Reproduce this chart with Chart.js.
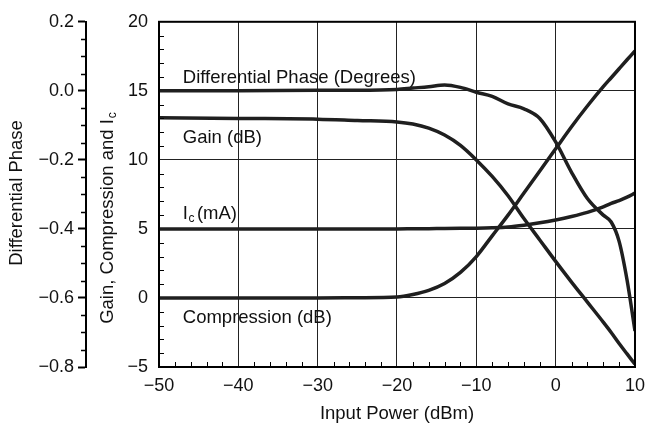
<!DOCTYPE html>
<html>
<head>
<meta charset="utf-8">
<script src="https://cdn.jsdelivr.net/npm/chart.js@4"></script>
<style>
  html, body { margin: 0; padding: 0; background: #fff; }
  #wrap { width: 653px; height: 425px; }
</style>
</head>
<body>
<div id="wrap"><canvas id="chart" width="653" height="425"></canvas></div>
<script>
// input power, dBm
const inputPower = [-50, -40, -30, -25, -20, -18, -16, -14, -12, -10, -8, -6, -4, -2, 0, 2, 4, 6, 7, 8, 9, 10];
const gainDb =        [13.05, 13.0, 12.95, 12.85, 12.75, 12.6, 12.3, 11.8, 11.05, 10.0, 8.8, 7.4, 5.75, 4.2, 2.65, 1.15, -0.3, -1.75, -2.5, -3.3, -4.05, -4.8];
const compressionDb = [0, 0, 0, 0.02, 0.07, 0.25, 0.55, 1.05, 1.85, 3.0, 4.5, 6.0, 7.6, 9.2, 10.8, 12.4, 13.9, 15.3, 15.95, 16.6, 17.25, 17.9];
const icMa =          [5.0, 5.0, 5.0, 5.0, 5.0, 5.01, 5.02, 5.03, 5.04, 5.05, 5.08, 5.14, 5.27, 5.44, 5.65, 5.9, 6.2, 6.6, 6.85, 7.05, 7.3, 7.6];
const diffPhase =     [0, 0, 0.002, 0.002, 0.004, 0.008, 0.012, 0.017, 0.01, -0.004, -0.016, -0.038, -0.052, -0.08, -0.148, -0.236, -0.312, -0.36, -0.38, -0.436, -0.548, -0.696];

const xTicks = [-50, -40, -30, -20, -10, 0, 10];
const gainTicks = [-5, 0, 5, 10, 15, 20];
const phaseTicks = [-0.8, -0.6, -0.4, -0.2, 0.0, 0.2];

const FONT = "'Liberation Sans', Arial, Helvetica, sans-serif";
const LINE = "#1f1f1f";
const TXT = "18.5px " + FONT;
const SUB = "12px " + FONT;

function minus(s) { return String(s).replace("-", "\u2212"); }

function series(vals, axis) {
  return {
    data: inputPower.map((x, i) => ({ x: x, y: vals[i] })),
    yAxisID: axis,
    borderColor: LINE,
    borderWidth: 3.5,
    pointRadius: 0,
    cubicInterpolationMode: "monotone",
    fill: false
  };
}

const decor = {
  id: "decor",
  afterDraw(chart) {
    const c = chart.ctx;
    const a = chart.chartArea;
    const xs = chart.scales.x, ys = chart.scales.y, ps = chart.scales.phase;
    c.save();
    c.strokeStyle = "#000";
    // minor ticks, inside the plot
    c.lineWidth = 1;
    c.beginPath();
    for (let v = -48; v < 10; v += 2) {
      if (v % 10 === 0) continue;
      const px = Math.round(xs.getPixelForValue(v)) + 0.5;
      c.moveTo(px, a.bottom); c.lineTo(px, a.bottom - 5);
    }
    for (let v = -4; v < 20; v += 1) {
      if (v % 5 === 0) continue;
      const py = Math.round(ys.getPixelForValue(v)) + 0.5;
      c.moveTo(a.left, py); c.lineTo(a.left + 5, py);
    }
    c.stroke();
    // minor ticks on the phase axis
    const axX = ps.right;
    c.lineWidth = 1.5;
    c.beginPath();
    for (let k = -16; k <= 4; k++) {
      if (k % 4 === 0) continue;
      const py = Math.round(ps.getPixelForValue(k * 0.05)) + 0.5;
      c.moveTo(axX, py); c.lineTo(axX - 5, py);
    }
    c.stroke();
    // frame
    c.lineWidth = 2;
    c.strokeRect(a.left, a.top, a.right - a.left, a.bottom - a.top);

    // labels on the curves
    c.fillStyle = "#111";
    c.font = TXT;
    c.textBaseline = "middle";
    c.textAlign = "left";
    const lx = xs.getPixelForValue(-47);
    c.fillText("Differential Phase (Degrees)", lx, ys.getPixelForValue(15.97));
    c.fillText("Gain (dB)", lx, ys.getPixelForValue(11.6));
    c.fillText("Compression (dB)", lx, ys.getPixelForValue(-1.47));
    const icY = ys.getPixelForValue(6.1);
    c.fillText("I", lx, icY);
    const w = c.measureText("I").width;
    c.font = SUB;
    c.fillText("c", lx + w + 0.5, icY + 5);
    const wc = c.measureText("c").width;
    c.font = TXT;
    c.fillText("(mA)", lx + w + wc + 3, icY);

    // axis titles
    c.save();
    c.translate(17, 193);
    c.rotate(-Math.PI / 2);
    c.textAlign = "center";
    c.fillText("Differential Phase", 0, 0);
    c.restore();

    c.save();
    c.translate(108, 218);
    c.rotate(-Math.PI / 2);
    const t1 = "Gain, Compression and I";
    const w1 = c.measureText(t1).width;
    c.font = SUB;
    const w2 = c.measureText("c").width;
    const start = -(w1 + w2 + 1) / 2;
    c.font = TXT;
    c.textAlign = "left";
    c.fillText(t1, start, 0);
    c.font = SUB;
    c.fillText("c", start + w1 + 1, 5);
    c.restore();
    c.restore();
  }
};

new Chart(document.getElementById("chart").getContext("2d"), {
  type: "line",
  data: {
    datasets: [
      series(diffPhase, "phase"),
      series(gainDb, "y"),
      series(icMa, "y"),
      series(compressionDb, "y")
    ]
  },
  options: {
    responsive: false,
    animation: false,
    events: [],
    layout: { padding: { top: 20, right: 11, bottom: 0, left: 0 } },
    plugins: { legend: { display: false }, tooltip: { enabled: false } },
    scales: {
      x: {
        type: "linear",
        position: "bottom",
        min: -50, max: 10,
        afterBuildTicks: s => { s.ticks = xTicks.map(v => ({ value: v })); },
        afterFit: s => { s.height = 58; },
        grid: { color: "#222", lineWidth: 1, drawTicks: false },
        border: { display: true, color: "#000", width: 2 },
        ticks: {
          color: "#111", padding: 8,
          font: { family: FONT, size: 18 },
          callback: v => minus(v)
        },
        title: {
          display: true, text: "Input Power (dBm)", color: "#111",
          font: { family: FONT, size: 18.5 }, padding: { top: 2, bottom: 0 }
        }
      },
      y: {
        type: "linear",
        position: "left",
        weight: 0,
        min: -5, max: 20,
        afterBuildTicks: s => { s.ticks = gainTicks.map(v => ({ value: v })); },
        afterFit: s => { s.width = 73; },
        grid: { color: "#222", lineWidth: 1, drawTicks: false },
        border: { display: true, color: "#000", width: 2 },
        ticks: {
          color: "#111", padding: 11,
          font: { family: FONT, size: 18 },
          callback: v => minus(v)
        }
      },
      phase: {
        type: "linear",
        position: "left",
        weight: 1,
        min: -0.8, max: 0.2,
        afterBuildTicks: s => { s.ticks = phaseTicks.map(v => ({ value: v })); },
        afterFit: s => { s.width = 86; },
        grid: { drawOnChartArea: false, drawTicks: true, tickLength: 8, tickWidth: 2, tickColor: "#000", color: "#000" },
        border: { display: true, color: "#000", width: 2 },
        ticks: {
          color: "#111", padding: 4,
          font: { family: FONT, size: 18 },
          callback: v => Math.abs(v) < 1e-9 ? "0.0" : minus(v.toFixed(1))
        }
      }
    }
  },
  plugins: [decor]
});
</script>
</body>
</html>
